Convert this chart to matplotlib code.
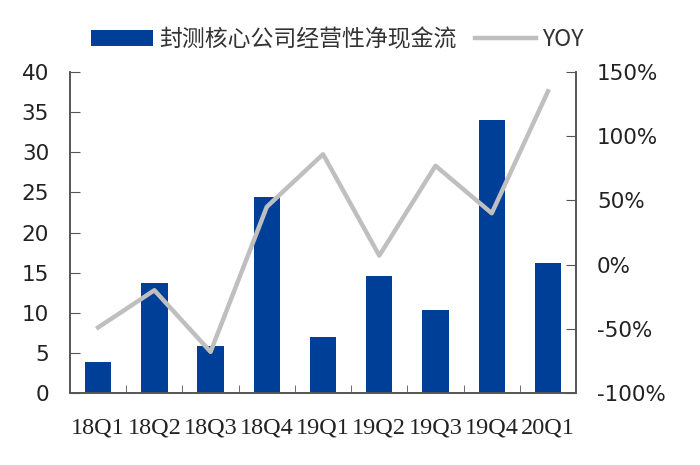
import matplotlib
matplotlib.use("Agg")
import matplotlib.pyplot as plt
import numpy as np
from matplotlib.ticker import FuncFormatter, MultipleLocator

categories = ["18Q1", "18Q2", "18Q3", "18Q4", "19Q1", "19Q2", "19Q3", "19Q4", "20Q1"]
cash_flow = [3.9, 13.7, 5.9, 24.4, 7.0, 14.6, 10.3, 34.0, 16.2]
yoy = [-49, -20, -68, 45, 86, 7, 77, 40, 135]
bar_label = "封测核心公司经营性净现金流"
line_label = "YOY"

plt.rcParams['font.family'] = ['Noto Sans CJK SC', 'DejaVu Sans']

fig = plt.figure(figsize=(7, 4.65), dpi=100)
ax = fig.add_axes([0.1, 0.155, 0.723, 0.69])
ax2 = ax.twinx()

x = np.arange(len(categories))
bars = ax.bar(x, cash_flow, width=0.47, color="#003F98", label=bar_label, zorder=2)
line, = ax2.plot(x, yoy, color="#BFBFBF", linewidth=3.2, label=line_label, zorder=3)

ax.set_xlim(-0.5, len(categories) - 0.5)
ax.set_ylim(0, 40)
ax.yaxis.set_major_locator(MultipleLocator(5))
ax2.set_ylim(-100, 150)
ax2.yaxis.set_major_locator(MultipleLocator(50))
ax2.yaxis.set_major_formatter(FuncFormatter(lambda v, p: f"{int(v)}%"))

ax.set_xticks(x)
ax.set_xticklabels(categories, family=['Liberation Serif'], fontsize=17.5, color='#222222')
ax.set_xticks(np.arange(0.5, len(categories) - 0.5, 1), minor=True)
ax.tick_params(axis='x', which='major', length=0, pad=18)
ax.tick_params(axis='x', which='minor', direction='in', length=6, color='#555555')

for a in (ax, ax2):
    a.spines['top'].set_visible(False)
    for s in a.spines.values():
        s.set_color('#555555')
        s.set_linewidth(1.2)

ax.tick_params(axis='y', direction='in', length=7, color='#555555', labelsize=15.5, pad=15)
ax2.tick_params(axis='y', direction='in', length=7, color='#555555', labelsize=15.5, pad=15)
for lbl in ax.get_yticklabels() + ax2.get_yticklabels():
    lbl.set_family(['DejaVu Sans'])
    lbl.set_color('#222222')

ax.set_zorder(1)
ax2.set_zorder(2)
ax2.patch.set_visible(False)

leg = fig.legend([bars, line], [bar_label, line_label], loc='center', bbox_to_anchor=(0.482, 0.915),
                 ncol=2, frameon=False, fontsize=16.5, handlelength=2.7, handletextpad=0.25,
                 columnspacing=0.8)
for t in leg.get_texts():
    t.set_color('#333333')

fig.savefig("out.png", dpi=100)
